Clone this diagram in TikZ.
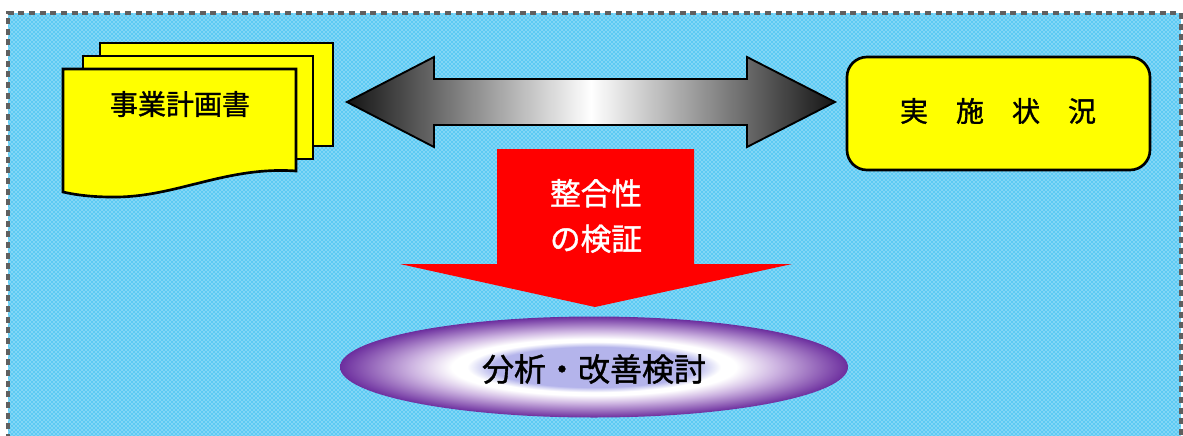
\documentclass[tikz,border=0pt]{standalone}
\usepackage{fontspec}
\setmainfont{Noto Sans CJK JP}
\newfontfamily\jpbold[FakeBold=1.2]{Noto Sans CJK JP}
\usetikzlibrary{shapes.geometric,patterns}
\definecolor{bgblue}{RGB}{40,185,240}
\definecolor{framegray}{RGB}{95,95,95}
\definecolor{docyellow}{RGB}{255,255,0}
\definecolor{arrred}{RGB}{255,0,0}
\definecolor{purpD}{RGB}{108,46,158}
\definecolor{purpL}{RGB}{205,180,225}
\definecolor{innerblue}{RGB}{180,180,235}
\pgfdeclareradialshading{ellshade}{\pgfpoint{0bp}{0bp}}{%
  color(0bp)=(innerblue); color(10bp)=(innerblue); color(12.5bp)=(white);
  color(14bp)=(white); color(18bp)=(purpL); color(25bp)=(purpD); color(50bp)=(purpD)}
\tikzset{
  docsheet/.style={draw=black, line width=2pt, fill=docyellow, line join=miter},
  boxtext/.style={font=\jpbold\fontsize{21}{25}\selectfont, text=black},
  arrowtext/.style={font=\jpbold\fontsize{23}{34}\selectfont, text=white, align=center},
  dblarrow/.style={draw=black, line width=1.4pt, left color=black!92, right color=black!92, middle color=white},
  statusbox/.style={draw=black, line width=2pt, fill=docyellow, rounded corners=15},
}
\begin{document}
\begin{tikzpicture}[x=0.75pt,y=-0.75pt]
\useasboundingbox (0,0) rectangle (1183,436);
% background with dashed frame
\fill[bgblue] (8,13) rectangle (1181,436);
\fill[pattern=crosshatch dots, pattern color=white] (8,13) rectangle (1181,436);
\fill[white, opacity=0.25] (8,13) rectangle (1181,436);
\draw[framegray, line width=2.4pt, dash pattern=on 4.5pt off 3.5pt] (8,440) -- (8,13) -- (1181,13) -- (1181,440);
% document stack
\draw[docsheet] (100,43) rectangle (333,146);
\draw[docsheet] (83,56) rectangle (313,159);
\draw[docsheet] (63,69) -- (296,69) -- (296,171)
  .. controls (225,166) and (175,198) .. (112,197)
  .. controls (88,197) and (72,194) .. (63,192) -- cycle;
\node[boxtext] (plan) at (180,104) {事業計画書};
% double arrow
\coordinate (lt) at (347,102);
\coordinate (rt) at (835,102);
\draw[dblarrow] (lt) -- (434,57) -- (434,79) -- (747,79) -- (747,57) -- (rt)
  -- (747,147) -- (747,125) -- (434,125) -- (434,147) -- cycle;
% status box
\draw[statusbox] (847,57) rectangle (1150,170);
\node[boxtext] (status) at (998,111) {実　施　状　況};
% red down arrow
\fill[arrred] (497,149) -- (694,149) -- (694,264) -- (792,264) -- (595,307)
  -- (400,264) -- (497,264) -- cycle;
\node[arrowtext] (verify) at (596,216) {整合性\\の検証};
% ellipse
\node[ellipse, minimum width=508*0.75pt, minimum height=101*0.75pt, inner sep=0pt,
  shading=ellshade] (analysis) at (594,367) {};
\node[font=\jpbold\fontsize{24}{28}\selectfont] (analysistext) at (594,369) {分析・改善検討};
\end{tikzpicture}
\end{document}
